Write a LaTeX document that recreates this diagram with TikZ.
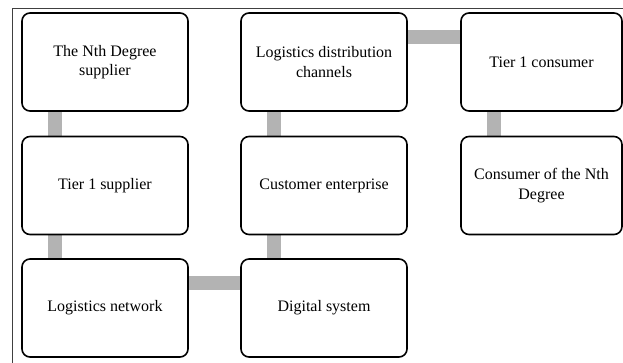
\documentclass[tikz,border=0pt]{standalone}
\usepackage{fontspec}
\setmainfont{Liberation Serif}
\usetikzlibrary{backgrounds}
\definecolor{linkgray}{HTML}{B3B3B3}
\definecolor{framegray}{HTML}{404040}
\tikzset{
  stagebox/.style={draw=black, line width=1.6pt, rounded corners=8pt, fill=white,
    minimum width=166pt, minimum height=98pt, inner sep=0pt, align=center,
    font=\fontsize{16}{19.5}\selectfont},
  linkbar/.style={draw=linkgray, line width=14pt},
  frameline/.style={draw=framegray, line width=1.1pt}
}
\begin{document}
\begin{tikzpicture}[x=1pt,y=-1pt]
  \useasboundingbox (0,0) rectangle (623,363);
  % outer frame (top and left edges)
  \coordinate (fbl) at (12.5,363);
  \coordinate (ftl) at (12.5,8.5);
  \coordinate (ftr) at (623,8.5);
  \draw[frameline] (fbl) -- (ftl) -- (ftr);
  % supply side
  \node[stagebox] (nth)  at (105,62)    {The Nth Degree\\supplier};
  \node[stagebox] (tier) at (105,185.5) {Tier 1 supplier};
  \node[stagebox] (net)  at (105,308)   {Logistics network};
  % enterprise side
  \node[stagebox] (dist) at (324,62)    {Logistics distribution\\channels};
  \node[stagebox] (cust) at (324,185.5) {Customer enterprise};
  \node[stagebox] (dig)  at (324,308)   {Digital system};
  % consumer side
  \node[stagebox, minimum width=161pt] (tc)  at (541.5,62)    {Tier 1 consumer};
  \node[stagebox, minimum width=161pt] (cnd) at (541.5,185.5) {Consumer of the Nth\\Degree};
  % links behind the boxes
  \begin{scope}[on background layer]
    \draw[linkbar] ([xshift=34pt]nth.south west) -- ([xshift=34pt]tier.north west);
    \draw[linkbar] ([xshift=34pt]tier.south west) -- ([xshift=34pt]net.north west);
    \draw[linkbar] ([yshift=-24.5pt]net.north east) -- ([yshift=-24.5pt]dig.north west);
    \draw[linkbar] ([xshift=34pt]dig.north west) -- ([xshift=34pt]cust.south west);
    \draw[linkbar] ([xshift=34pt]cust.north west) -- ([xshift=34pt]dist.south west);
    \draw[linkbar] ([yshift=-24.5pt]dist.north east) -- ([yshift=-24.5pt]tc.north west);
    \draw[linkbar] ([xshift=34pt]tc.south west) -- ([xshift=34pt]cnd.north west);
  \end{scope}
\end{tikzpicture}
\end{document}
